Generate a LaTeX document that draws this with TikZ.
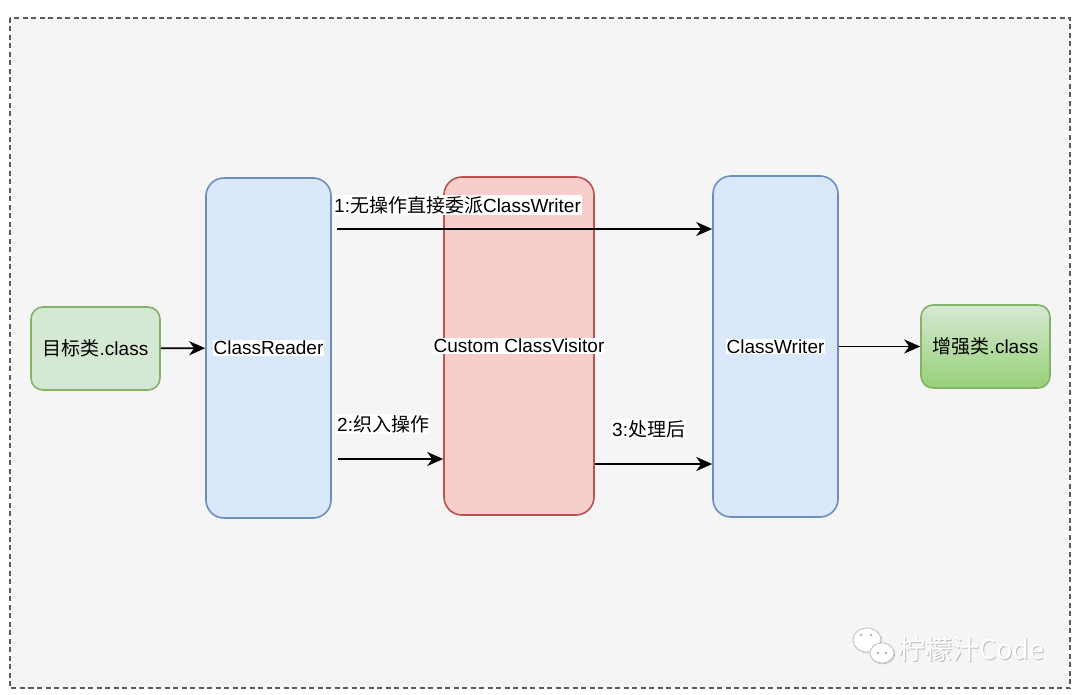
\documentclass[tikz,border=0pt]{standalone}
\usepackage{fontspec}
\setmainfont{Liberation Sans}
\newfontfamily\cjk{Noto Sans CJK SC}
\usetikzlibrary{arrows.meta}

\definecolor{greenfill}{HTML}{D5E8D4}
\definecolor{greendark}{HTML}{97D077}
\definecolor{greenline}{HTML}{82B366}
\definecolor{bluefill}{HTML}{DAE8FC}
\definecolor{blueline}{HTML}{6C8EBF}
\definecolor{redfill}{HTML}{F8CECC}
\definecolor{redline}{HTML}{B85450}
\definecolor{canvas}{HTML}{F5F5F5}
\definecolor{frameline}{HTML}{5A5A5A}

\tikzset{
    txt/.style={font=\fontsize{19}{22}\selectfont, inner sep=1pt},
    textbg/.style={txt, fill=white},
    smallbox/.style={draw=greenline, line width=1.6pt, rounded corners=12pt,
        minimum width=129pt, minimum height=83pt, txt},
    tallbox/.style={draw=blueline, fill=bluefill, line width=1.6pt, rounded corners=18pt,
        minimum width=125pt, minimum height=340pt},
    flow/.style={line width=1.8pt, -{Stealth[length=16pt, width=14pt, inset=5pt]}}
}

\begin{document}
\begin{tikzpicture}[x=1pt, y=-1pt]
    \useasboundingbox (0,0) rectangle (1080,695);
    \fill[white] (0,0) rectangle (1080,695);
    % dashed frame round the whole diagram
    \draw[frameline, fill=canvas, line width=1.5pt, dash pattern=on 5pt off 3.5pt]
        (10,18) rectangle (1070,688);

    % the boxes
    \node[smallbox, fill=greenfill] (src) at (95.5,348.5) {{\cjk 目标类}.class};
    \node[tallbox] (reader) at (268.5,348) {};
    \node[tallbox, draw=redline, fill=redfill, minimum width=150pt, minimum height=338pt]
        (visitor) at (519,346) {};
    \node[tallbox, minimum height=341pt] (writer) at (775.5,346.5) {};
    \node[smallbox, top color=greenfill, bottom color=greendark] (dst) at (985.5,346.5)
        {{\cjk 增强类}.class};

    \node[textbg] (reader-text) at (reader) {ClassReader};
    \node[textbg] (visitor-text) at (visitor) {Custom ClassVisitor};
    \node[textbg] (writer-text) at (writer) {ClassWriter};

    % the connectors
    \coordinate (a1) at (337,229);
    \coordinate (a2) at (338,459);
    \coordinate (a3) at (visitor.east |- 0,464);
    \draw[flow] (src) -- (reader);
    \draw[flow] (a1) -- (a1 -| writer.west);
    \draw[flow] (a2) -- (a2 -| visitor.west);
    \draw[flow] (a3) -- (a3 -| writer.west);
    \draw[flow] (writer) -- (dst);

    \node[textbg, anchor=west] (l1) at (333,205) {1:{\cjk 无操作直接委派}ClassWriter};
    \node[textbg, anchor=west] (l2) at (336,424) {2:{\cjk 织入操作}};
    \node[textbg, anchor=west] (l3) at (611,429) {3:{\cjk 处理后}};

    % watermark
    \foreach \c/\dx in {black!25/0.8, white/0} {
        \draw[\c, fill=white, line width=1pt] (867+\dx,640+\dx) ellipse (14 and 12);
        \draw[\c, fill=white, line width=1pt] (882+\dx,653+\dx) ellipse (12 and 10);
        \node[\c, font=\cjk\fontsize{27}{30}\selectfont, anchor=west, inner sep=0pt]
            at (898+\dx,649+\dx) {柠檬汁Code};
    }
    \draw[black!25, line width=0.8pt] (867,640) ellipse (14 and 12);
    \draw[black!25, fill=white, line width=0.8pt] (882,653) ellipse (12 and 10);
    \foreach \p in {(861,635), (871,635), (878,653), (886,653)}
        \fill[black!30] \p circle (1.3);
\end{tikzpicture}
\end{document}
